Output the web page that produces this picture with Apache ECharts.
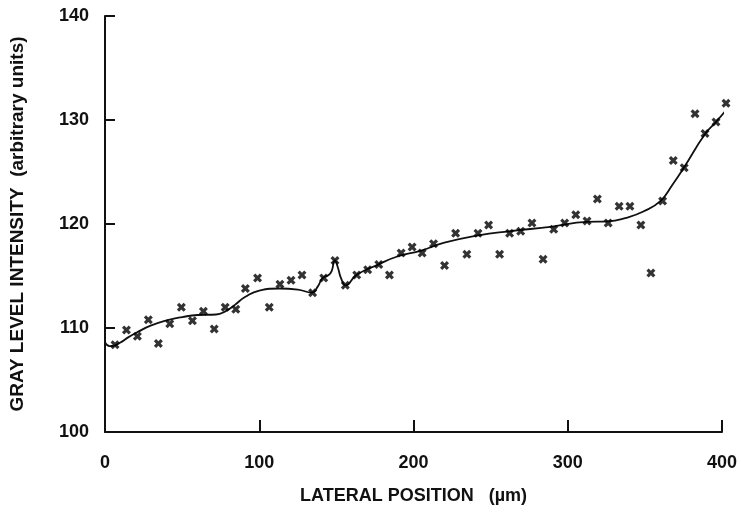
<!DOCTYPE html>
<html>
<head>
<meta charset="utf-8">
<script src="https://cdn.jsdelivr.net/npm/echarts@6/dist/echarts.min.js"></script>
<style>
html,body{margin:0;padding:0;background:#fff;}
#chart{width:741px;height:512px;}
</style>
</head>
<body>
<div id="chart"></div>
<script>
// Measured points (lateral position µm, gray level)
var measX = [6.5,13.9,21,28.1,34.6,42,49.5,56.7,63.8,70.8,77.9,84.8,91,98.9,106.5,113.4,120.6,127.7,134.6,141.8,149.1,155.8,163.2,170.3,177.5,184.4,192,199.1,205.6,213,220.1,227.3,234.6,241.8,248.7,255.8,262.3,269.5,276.8,284,290.9,298,305.2,312.5,319.2,326.2,333.3,340.3,347.4,353.9,361.5,368.4,375.5,382.5,389,396.1,402.6];
var measY = [108.4,109.8,109.2,110.8,108.5,110.4,112.0,110.7,111.6,109.9,112.0,111.8,113.8,114.8,112.0,114.2,114.6,115.1,113.4,114.8,116.5,114.1,115.1,115.6,116.1,115.1,117.2,117.8,117.2,118.1,116.0,119.1,117.1,119.1,119.9,117.1,119.1,119.3,120.1,116.6,119.5,120.1,120.9,120.3,122.4,120.1,121.7,121.7,119.9,115.3,122.2,126.1,125.4,130.6,128.7,129.8,131.6];
// Fitted curve
var fitX = [0,3,6,10,15,21,30,42,50,60,72,78,84,91,100,113,125,134,138,141,145,147,149,151,153,156,163,177,190,204,220,242,262,290,312,326,338,349,360,368,375,389,396,404];
var fitY = [108.6,108.25,108.3,108.6,109.1,109.6,110.25,110.8,111.05,111.25,111.3,111.6,112.2,113.0,113.6,113.8,113.7,113.4,114.0,114.8,115.1,115.5,116.5,115.8,114.8,114.1,115.1,116.1,116.9,117.4,118.2,118.9,119.3,119.75,120.2,120.25,120.6,121.2,122.2,123.8,125.35,128.65,129.8,131.2];
var xTicks = [0,100,200,300,400];
var yTicks = [100,110,120,130,140];

var meas = measX.map(function(x,i){return [x, measY[i]];});
var fit = fitX.map(function(x,i){return [x, fitY[i]];});

var chart = echarts.init(document.getElementById('chart'), null, {renderer:'canvas'});
var FF = 'Liberation Sans, Arial, sans-serif';
var lblFont = {color:'#111', fontSize:18, fontWeight:'bold', fontFamily:FF};
var xSym = 'path://M0,2.5 L2.5,0 L5,2.5 L7.5,0 L10,2.5 L7.5,5 L10,7.5 L7.5,10 L5,7.5 L2.5,10 L0,7.5 L2.5,5 Z';
chart.setOption({
  animation:false,
  backgroundColor:'#fff',
  grid:{left:105, right:19, top:16, bottom:80},
  xAxis:{
    type:'value', min:xTicks[0], max:xTicks[xTicks.length-1], interval:100,
    name:'LATERAL POSITION   (\u00b5m)', nameLocation:'middle', nameGap:55,
    nameTextStyle:{color:'#111', fontSize:18, fontWeight:'bold', fontFamily:FF},
    axisLine:{lineStyle:{color:'#111', width:2}},
    axisTick:{inside:true, length:12, lineStyle:{color:'#111', width:2}},
    axisLabel:Object.assign({margin:22}, lblFont),
    splitLine:{show:false}
  },
  yAxis:{
    type:'value', min:yTicks[0], max:yTicks[yTicks.length-1], interval:10,
    name:'GRAY LEVEL INTENSITY  (arbitrary units)', nameLocation:'middle', nameGap:78,
    nameTextStyle:{color:'#111', fontSize:19, fontWeight:'bold', fontFamily:FF},
    axisLine:{show:true, lineStyle:{color:'#111', width:2}},
    axisTick:{inside:true, length:10, lineStyle:{color:'#111', width:2}},
    axisLabel:Object.assign({margin:16}, lblFont),
    splitLine:{show:false}
  },
  series:[
    {type:'line', data:fit, smooth:0.5, showSymbol:false, clip:false,
     lineStyle:{color:'#111', width:1.8}, z:2},
    {type:'scatter', data:meas, symbol:xSym, symbolSize:9, clip:false,
     itemStyle:{color:'#000'}, z:3}
  ]
});
</script>
</body>
</html>
